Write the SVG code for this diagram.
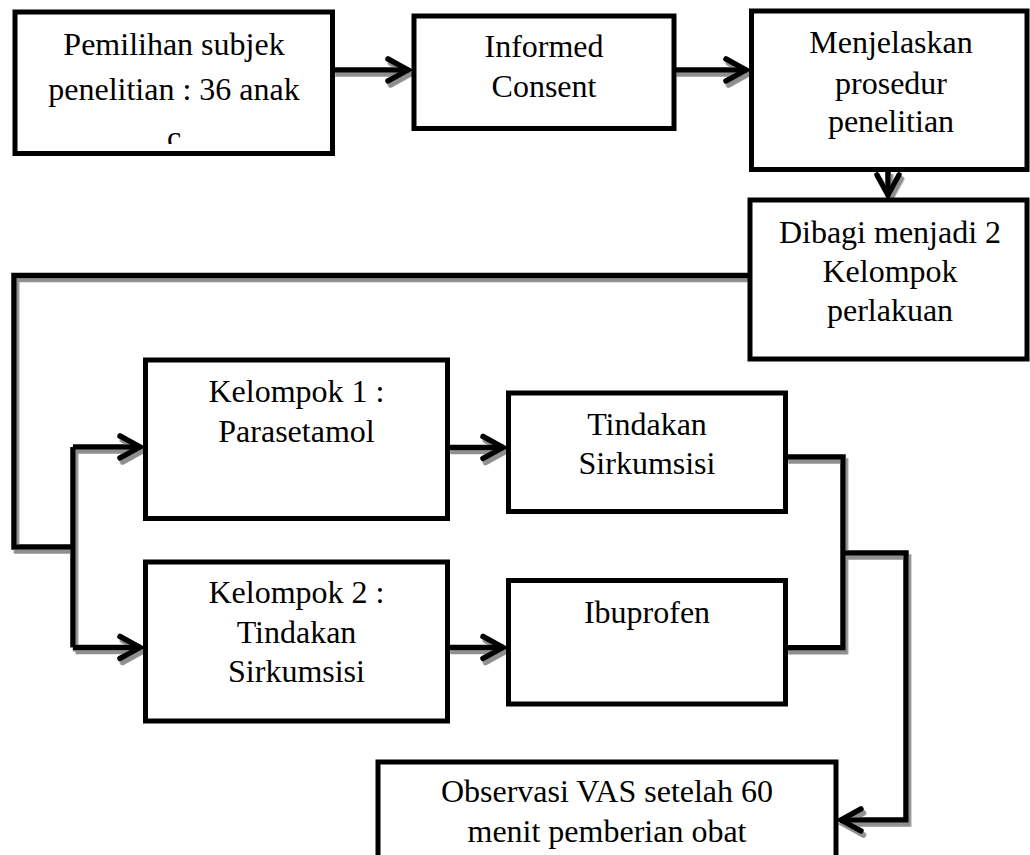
<svg xmlns="http://www.w3.org/2000/svg" width="1030" height="855" viewBox="0 0 1030 855">
<style>
.box{fill:#fff;stroke:#000;stroke-width:5}
.t{font-family:"Liberation Serif","Times New Roman",serif;font-size:32px;fill:#000;text-anchor:middle}
.c{fill:none;stroke:#000;stroke-width:5.5;stroke-linejoin:miter}
</style>
<defs>
<marker id="ah" markerUnits="userSpaceOnUse" markerWidth="40" markerHeight="40" refX="0" refY="0" viewBox="-30 -20 40 40" orient="auto" overflow="visible">
<path d="M-21,-11 L-1,0 L-21,11" fill="none" stroke="#000" stroke-width="5.5" stroke-linecap="round"/>
</marker>
<filter id="sh" x="-5%" y="-5%" width="110%" height="110%">
<feDropShadow dx="2.5" dy="4" stdDeviation="0.4" flood-color="#8f8f8f" flood-opacity="1"/>
</filter>
<clipPath id="clip1"><rect x="18" y="14" width="312" height="130"/></clipPath>
</defs>
<rect width="1030" height="855" fill="#fff"/>
<g id="connectors" filter="url(#sh)">
<path class="c" d="M332.5 70 H409" marker-end="url(#ah)"/>
<path class="c" d="M674 70 H747" marker-end="url(#ah)"/>
<path class="c" d="M888 170 V196" marker-end="url(#ah)"/>
<path class="c" d="M750 275.5 H14 V547 H73"/>
<path class="c" d="M73 447 V647.5"/>
<path class="c" d="M73 447 H141" marker-end="url(#ah)"/>
<path class="c" d="M73 647.5 H141" marker-end="url(#ah)"/>
<path class="c" d="M447.5 447.5 H504" marker-end="url(#ah)"/>
<path class="c" d="M447.5 647.5 H504" marker-end="url(#ah)"/>
<path class="c" d="M785.5 457 H843 V647.7 H785.5"/>
<path class="c" d="M843 553 H906 V820 H840" marker-end="url(#ah)"/>
</g>
<g id="n1">
<rect class="box" x="15" y="12" width="317.5" height="141.5"/>
<text class="t" x="174" y="55">Pemilihan subjek</text>
<text class="t" x="174" y="100">penelitian : 36 anak</text>
<g clip-path="url(#clip1)"><text class="t" x="174" y="148">c</text></g>
</g>
<g id="n2">
<rect class="box" x="414" y="16" width="260" height="112.5"/>
<text class="t" x="544" y="57">Informed</text>
<text class="t" x="544" y="97">Consent</text>
</g>
<g id="n3">
<rect class="box" x="751.5" y="11" width="275.5" height="158.5"/>
<text class="t" x="891" y="53">Menjelaskan</text>
<text class="t" x="891" y="94">prosedur</text>
<text class="t" x="891" y="132">penelitian</text>
</g>
<g id="n4">
<rect class="box" x="750" y="200" width="277" height="159"/>
<text class="t" x="890" y="243">Dibagi menjadi 2</text>
<text class="t" x="890" y="282">Kelompok</text>
<text class="t" x="890" y="321">perlakuan</text>
</g>
<g id="n5">
<rect class="box" x="145.5" y="360" width="302" height="158.5"/>
<text class="t" x="296.5" y="402">Kelompok 1 :</text>
<text class="t" x="296.5" y="442">Parasetamol</text>
</g>
<g id="n6">
<rect class="box" x="508.5" y="393" width="277" height="118.5"/>
<text class="t" x="647" y="435">Tindakan</text>
<text class="t" x="647" y="474">Sirkumsisi</text>
</g>
<g id="n7">
<rect class="box" x="145.5" y="562" width="302" height="159"/>
<text class="t" x="296.5" y="603">Kelompok 2 :</text>
<text class="t" x="296.5" y="643">Tindakan</text>
<text class="t" x="296.5" y="682">Sirkumsisi</text>
</g>
<g id="n8">
<rect class="box" x="508.5" y="580.5" width="277" height="123.5"/>
<text class="t" x="647" y="623">Ibuprofen</text>
</g>
<g id="n9">
<rect class="box" x="378" y="762" width="458" height="110"/>
<text class="t" x="607" y="802">Observasi VAS setelah 60</text>
<text class="t" x="607" y="842">menit pemberian obat</text>
</g>
</svg>
